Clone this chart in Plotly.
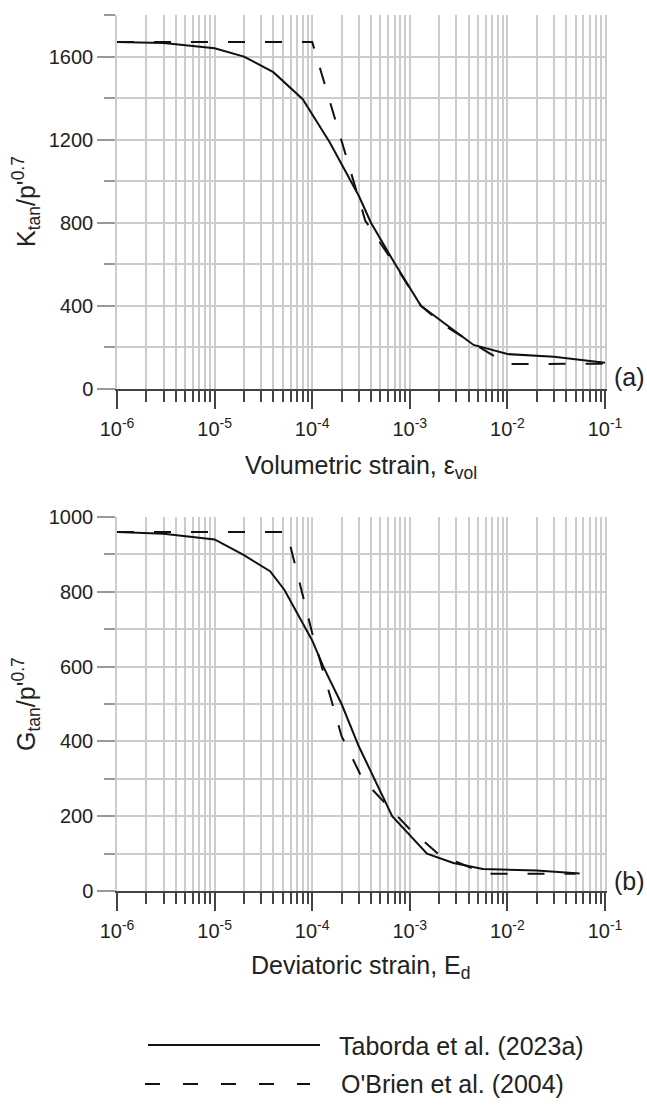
import plotly.graph_objects as go

# ---------------- data ----------------
strain_vol_taborda = [1e-6, 3e-6, 1e-5, 2e-5, 4e-5, 8e-5, 1.5e-4, 3e-4, 4e-4, 7e-4, 1.3e-3, 2.2e-3, 4.5e-3, 1e-2, 3e-2, 1e-1]
K_taborda = [1670, 1665, 1640, 1600, 1525, 1395, 1190, 930, 800, 605, 400, 320, 212, 168, 155, 126]

strain_vol_obrien = [1e-6, 1e-4, 3.5e-4, 7e-4, 1.3e-3, 2.2e-3, 5e-3, 1e-2, 1e-1]
K_obrien = [1670, 1670, 810, 600, 400, 310, 205, 120, 122]

strain_dev_taborda = [1e-6, 3e-6, 1e-5, 2e-5, 3.7e-5, 5.2e-5, 1e-4, 1.3e-4, 2e-4, 3e-4, 6.6e-4, 1.5e-3, 2.8e-3, 5.6e-3, 2e-2, 5.5e-2]
G_taborda = [960, 955, 940, 898, 855, 805, 670, 600, 500, 387, 200, 100, 75, 59, 55, 47]

strain_dev_obrien = [1e-6, 5.5e-5, 1e-4, 2e-4, 3.3e-4, 1e-3, 2e-3, 6e-3, 1e-2, 5e-2]
G_obrien = [960, 960, 690, 414, 298, 165, 97, 46, 46, 46]

x_tick_vals = [1e-6, 1e-5, 1e-4, 1e-3, 1e-2, 1e-1]
x_tick_text = ["10<sup>-6</sup>", "10<sup>-5</sup>", "10<sup>-4</sup>", "10<sup>-3</sup>", "10<sup>-2</sup>", "10<sup>-1</sup>"]
x_minor_vals = [k * 10.0 ** e for e in range(-6, -1) for k in range(2, 10)]

yK_tick_vals = [0, 400, 800, 1200, 1600]
yK_minor_vals = list(range(0, 1801, 200))
yG_tick_vals = [0, 200, 400, 600, 800, 1000]
yG_minor_vals = list(range(0, 1001, 100))

legend_labels = ["Taborda et al. (2023a)", "O'Brien et al. (2004)"]

# ---------------- style ----------------
W, H = 647, 1105
FONT = "Liberation Sans, Arial, sans-serif"
TXT = "#222222"
GRID = "#cccccc"
DASH = "17px,20px"

def px_x(x):
    return x / W

def px_y(y):
    return 1 - y / H

fig = go.Figure()

fig.add_trace(go.Scatter(x=strain_vol_taborda, y=K_taborda, mode="lines",
                         line=dict(color="#111111", width=2), xaxis="x", yaxis="y",
                         name=legend_labels[0], showlegend=False))
fig.add_trace(go.Scatter(x=strain_vol_obrien, y=K_obrien, mode="lines",
                         line=dict(color="#111111", width=2, dash=DASH), xaxis="x", yaxis="y",
                         name=legend_labels[1], showlegend=False))
fig.add_trace(go.Scatter(x=strain_dev_taborda, y=G_taborda, mode="lines",
                         line=dict(color="#111111", width=2), xaxis="x2", yaxis="y2",
                         name=legend_labels[0], showlegend=False))
fig.add_trace(go.Scatter(x=strain_dev_obrien, y=G_obrien, mode="lines",
                         line=dict(color="#111111", width=2, dash=DASH), xaxis="x2", yaxis="y2",
                         name=legend_labels[1], showlegend=False))

xdom = [117 / W, 605 / W]
ydom1 = [px_y(389), px_y(15)]
ydom2 = [px_y(891), px_y(517)]

def xaxis_cfg(anchor):
    return dict(
        type="log", range=[-6, -1], domain=xdom, anchor=anchor,
        tickmode="array", tickvals=x_tick_vals, ticktext=x_tick_text,
        ticks="outside", ticklen=18, tickwidth=2, tickcolor="#444444",
        ticklabelstandoff=3,
        showline=True, linecolor="#444444", linewidth=2,
        showgrid=True, gridcolor=GRID, gridwidth=1.5,
        zeroline=False, automargin=False,
        tickfont=dict(family=FONT, size=20, color=TXT),
        minor=dict(tickmode="array", tickvals=x_minor_vals, ticks="outside",
                   ticklen=11, tickwidth=2, tickcolor="#444444",
                   showgrid=True, gridcolor=GRID, gridwidth=1.5),
    )

def yaxis_cfg(anchor, dom, rng, tv, mv):
    return dict(
        range=rng, domain=dom, anchor=anchor,
        tickmode="array", tickvals=tv,
        ticks="outside", ticklen=18, tickwidth=1.5, tickcolor="#999999",
        showline=True, linecolor=GRID, linewidth=1.5, mirror=True,
        showgrid=True, gridcolor=GRID, gridwidth=1.5,
        zeroline=False, automargin=False,
        tickfont=dict(family=FONT, size=20, color=TXT),
        minor=dict(tickmode="array", tickvals=mv, ticks="outside",
                   ticklen=11, tickwidth=1.5, tickcolor="#999999",
                   showgrid=True, gridcolor=GRID, gridwidth=1.5),
    )

annotations = [
    dict(text="Volumetric strain, ε<sub>vol</sub>", x=px_x(361), y=px_y(467)),
    dict(text="Deviatoric strain, E<sub>d</sub>", x=px_x(361), y=px_y(967)),
    dict(text="K<sub>tan</sub>/p'<sup>0.7</sup>", x=px_x(26), y=px_y(202), textangle=-90),
    dict(text="G<sub>tan</sub>/p'<sup>0.7</sup>", x=px_x(26), y=px_y(704), textangle=-90),
    dict(text="(a)", x=px_x(612), y=px_y(377), xanchor="left"),
    dict(text="(b)", x=px_x(612), y=px_y(881), xanchor="left"),
    dict(text=legend_labels[0], x=px_x(337), y=px_y(1046), xanchor="left"),
    dict(text=legend_labels[1], x=px_x(339), y=px_y(1084), xanchor="left"),
]
for a in annotations:
    a.setdefault("xanchor", "center")
    a.update(xref="paper", yref="paper", yanchor="middle", showarrow=False,
             font=dict(family=FONT, size=25, color=TXT))

shapes = [
    dict(type="line", xref="paper", yref="paper", x0=px_x(148), x1=px_x(320),
         y0=px_y(1045), y1=px_y(1045), line=dict(color="#111111", width=2)),
    dict(type="line", xref="paper", yref="paper", x0=px_x(145), x1=px_x(310),
         y0=px_y(1084), y1=px_y(1084), line=dict(color="#111111", width=2, dash="15px,23px")),
]

fig.update_layout(
    width=W, height=H,
    margin=dict(l=0, r=0, t=0, b=0),
    paper_bgcolor="white", plot_bgcolor="white",
    xaxis=xaxis_cfg("y"),
    yaxis=yaxis_cfg("x", ydom1, [0, 1800], yK_tick_vals, yK_minor_vals),
    xaxis2=xaxis_cfg("y2"),
    yaxis2=yaxis_cfg("x2", ydom2, [0, 1000], yG_tick_vals, yG_minor_vals),
    annotations=annotations,
    shapes=shapes,
    showlegend=False,
)

fig.write_html("out.html")
